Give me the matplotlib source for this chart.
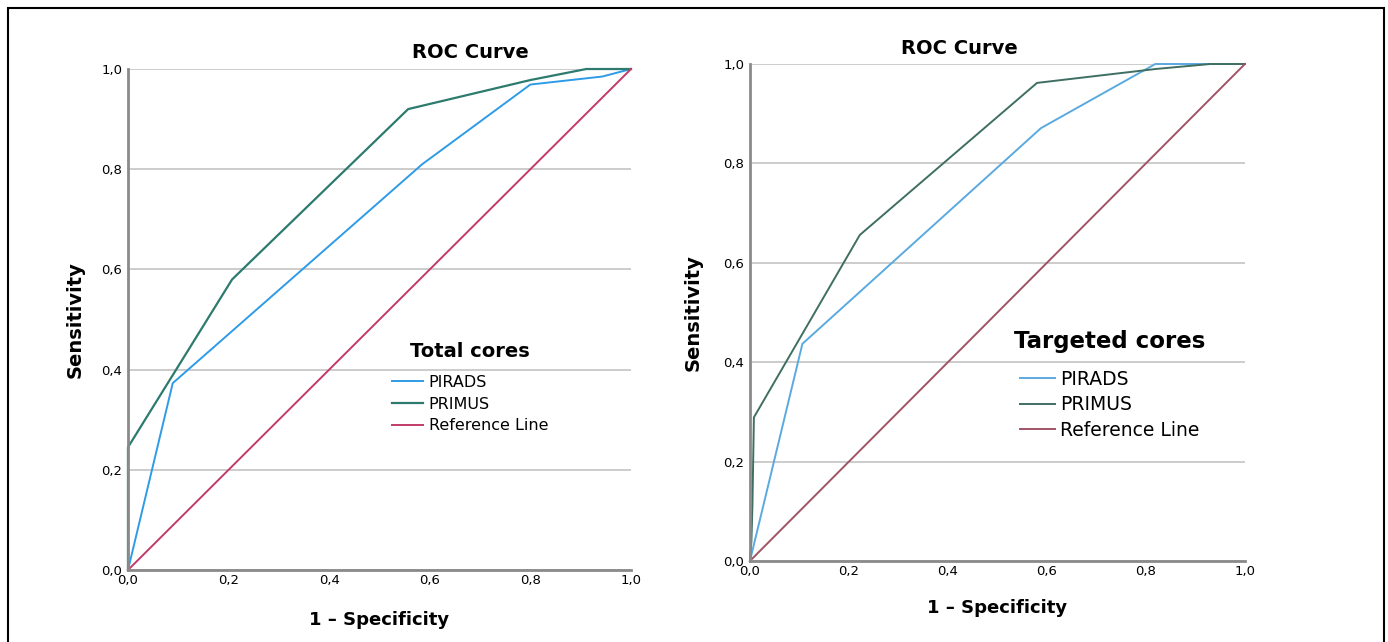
import matplotlib.pyplot as plt
from matplotlib.patches import Rectangle

plt.rcParams['font.family'] = ['DejaVu Sans']

# ROC points
total_pirads_fpr = [0, 0.089, 0.585, 0.80, 0.943, 1.0]
total_pirads_tpr = [0, 0.373, 0.81, 0.969, 0.985, 1.0]
total_primus_fpr = [0, 0, 0.207, 0.557, 0.80, 0.911, 1.0]
total_primus_tpr = [0, 0.245, 0.58, 0.92, 0.978, 1.0, 1.0]

targeted_pirads_fpr = [0, 0.106, 0.588, 0.819, 1.0]
targeted_pirads_tpr = [0, 0.437, 0.871, 1.0, 1.0]
targeted_primus_fpr = [0, 0.003, 0.005, 0.008, 0.222, 0.58, 0.82, 0.93, 1.0]
targeted_primus_tpr = [0, 0.04, 0.11, 0.289, 0.656, 0.962, 0.99, 1.0, 1.0]

ref_line = [0, 1]
ticks = [0.0, 0.2, 0.4, 0.6, 0.8, 1.0]
tick_labels = ['0,0', '0,2', '0,4', '0,6', '0,8', '1,0']

fig = plt.figure(figsize=(13.88, 6.42), dpi=100)
fig.patches.append(Rectangle((0.0058, -0.02), 0.9913, 1.0075, transform=fig.transFigure,
                             fill=False, edgecolor='black', linewidth=1.5))

ax1 = fig.add_axes([0.0922, 0.1121, 0.3624, 0.7804])
ax2 = fig.add_axes([0.5403, 0.1262, 0.3566, 0.7741])


def style_axes(ax, title_x, title_pad, xpad, ypad):
    ax.set_xlim(0, 1)
    ax.set_ylim(0, 1)
    ax.set_xticks(ticks)
    ax.set_xticklabels(tick_labels)
    ax.set_yticks(ticks)
    ax.set_yticklabels(tick_labels)
    ax.tick_params(length=0, labelsize=9.5, pad=4)
    ax.tick_params(axis='x', pad=3)
    ax.yaxis.grid(True, color='#c4c4c4', linewidth=1.2)
    ax.set_axisbelow(True)
    for s in ['top', 'right']:
        ax.spines[s].set_visible(False)
    for s in ['left', 'bottom']:
        ax.spines[s].set_color('#8a8a8a')
        ax.spines[s].set_linewidth(2)
    ax.set_title('ROC Curve', fontsize=14, fontweight='bold', x=title_x, pad=title_pad)
    ax.set_xlabel('1 – Specificity', fontsize=13, fontweight='bold', labelpad=xpad)
    ax.set_ylabel('Sensitivity', fontsize=14, fontweight='bold', labelpad=ypad)


# Total cores
ax1.plot(total_pirads_fpr, total_pirads_tpr, color='#2e9be6', lw=1.4, label='PIRADS', clip_on=False)
ax1.plot(total_primus_fpr, total_primus_tpr, color='#2d7a6e', lw=1.6, label='PRIMUS', clip_on=False)
ax1.plot(ref_line, ref_line, color='#c23a6a', lw=1.4, label='Reference Line', clip_on=False)
style_axes(ax1, 0.68, 8, 17, 12)
leg1 = ax1.legend(loc='upper left', bbox_to_anchor=(0.525, 0.455), frameon=False,
                  title='Total cores', title_fontproperties={'size': 14, 'weight': 'bold'},
                  fontsize=11.5, handlelength=1.95, handletextpad=0.35, labelspacing=0.42,
                  borderpad=0, borderaxespad=0)
leg1._legend_box.sep = 10

# Targeted cores
ax2.plot(targeted_pirads_fpr, targeted_pirads_tpr, color='#5aaae0', lw=1.4, label='PIRADS', clip_on=False)
ax2.plot(targeted_primus_fpr, targeted_primus_tpr, color='#3f6e62', lw=1.4, label='PRIMUS', clip_on=False)
ax2.plot(ref_line, ref_line, color='#a05466', lw=1.4, label='Reference Line', clip_on=False)
style_axes(ax2, 0.424, 7, 15, 15)
leg2 = ax2.legend(loc='upper left', bbox_to_anchor=(0.533, 0.464), frameon=False,
                  title='Targeted cores', title_fontproperties={'size': 16.5, 'weight': 'bold'},
                  fontsize=13.5, handlelength=1.9, handletextpad=0.25, labelspacing=0.34,
                  borderpad=0, borderaxespad=0)
leg2._legend_box.sep = 12

fig.savefig('out.png', dpi=100)
